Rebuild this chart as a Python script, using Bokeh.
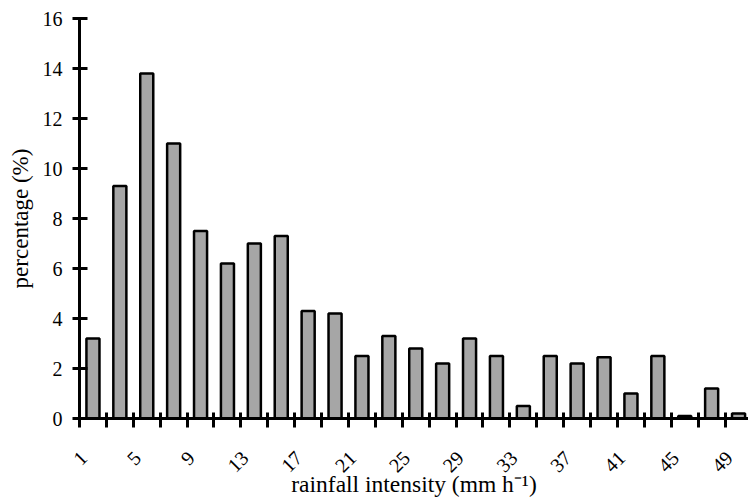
import math
from bokeh.plotting import figure
from bokeh.models import Range1d, FixedTicker
from bokeh.embed import file_html
from bokeh.resources import INLINE

# category centres (mm h-1) and percentages
intensity = [1, 3, 5, 7, 9, 11, 13, 15, 17, 19, 21, 23, 25, 27, 29, 31, 33, 35, 37, 39, 41, 43, 45, 47, 49]
percentage = [3.2, 9.3, 13.8, 11.0, 7.5, 6.2, 7.0, 7.3, 4.3, 4.2, 2.5, 3.3, 2.8, 2.2, 3.2, 2.5, 0.5,
              2.5, 2.2, 2.45, 1.0, 2.5, 0.1, 1.2, 0.2]
x_tick_labels = [1, 5, 9, 13, 17, 21, 25, 29, 33, 37, 41, 45, 49]
category_edges = [c - 1 for c in intensity]
y_ticks = [0, 2, 4, 6, 8, 10, 12, 14, 16]
x_title = "rainfall intensity (mm h\u207b\u00b9)"
y_title = "percentage (%)"

FONT = "Liberation Serif"
LABEL_SHIFT = 0.7  # rotated labels sit slightly left of their category centre
label_pos = [c - LABEL_SHIFT for c in x_tick_labels]

p = figure(width=748, height=500, output_backend="svg", toolbar_location=None,
           x_range=Range1d(0, 49.74), y_range=Range1d(0, 16),
           min_border_left=79, min_border_right=0, min_border_top=18, min_border_bottom=82)
p.outline_line_color = None
p.grid.visible = False
p.background_fill_color = "white"
p.border_fill_color = "white"

p.vbar(x=intensity, top=percentage, width=0.97, bottom=0,
       fill_color="#a6a6a6", line_color="black", line_width=2.5)

xa = p.xaxis[0]
xa.ticker = FixedTicker(ticks=label_pos, minor_ticks=category_edges)
xa.major_label_overrides = {pos: str(c) for pos, c in zip(label_pos, x_tick_labels)}
xa.axis_line_width = 3
xa.axis_line_color = "black"
xa.major_tick_in = 0
xa.major_tick_out = 0
xa.minor_tick_in = 6
xa.minor_tick_out = 9
xa.minor_tick_line_width = 3
xa.minor_tick_line_color = "black"
xa.major_label_orientation = math.pi / 4
xa.major_label_text_font = FONT
xa.major_label_text_font_size = "20px"
xa.major_label_text_color = "black"
xa.major_label_standoff = 27
xa.axis_label = x_title
xa.axis_label_text_font = FONT
xa.axis_label_text_font_size = "23.5px"
xa.axis_label_text_font_style = "normal"
xa.axis_label_text_color = "black"
xa.axis_label_standoff = -11

ya = p.yaxis[0]
ya.ticker = FixedTicker(ticks=y_ticks, minor_ticks=[])
ya.axis_line_width = 3
ya.axis_line_color = "black"
ya.major_tick_in = 8
ya.major_tick_out = 7
ya.major_tick_line_width = 3
ya.major_tick_line_color = "black"
ya.minor_tick_line_color = None
ya.major_label_text_font = FONT
ya.major_label_text_font_size = "20px"
ya.major_label_text_color = "black"
ya.major_label_standoff = 10
ya.axis_label = y_title
ya.axis_label_text_font = FONT
ya.axis_label_text_font_size = "23px"
ya.axis_label_text_font_style = "normal"
ya.axis_label_text_color = "black"
ya.axis_label_standoff = 7

open("out.html", "w").write(file_html(p, INLINE))
